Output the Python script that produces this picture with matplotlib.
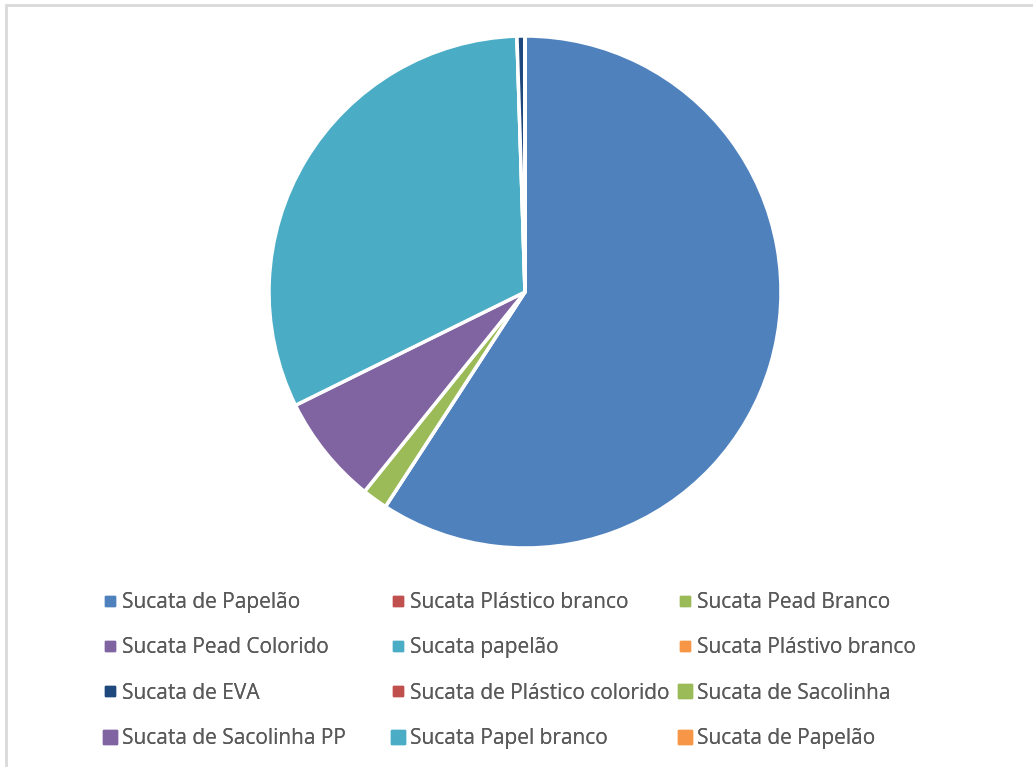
import matplotlib.pyplot as plt
from matplotlib.lines import Line2D
from matplotlib.patches import Rectangle

# Categories as they appear in the legend (row by row)
labels = ["Sucata de Papelão", "Sucata Plástico branco", "Sucata Pead Branco",
          "Sucata Pead Colorido", "Sucata papelão", "Sucata Plástivo branco",
          "Sucata de EVA", "Sucata de Plástico colorido", "Sucata de Sacolinha",
          "Sucata de Sacolinha PP", "Sucata Papel branco", "Sucata de Papelão"]
# Share of each category (percent)
values = [59.0, 0.0, 1.6, 6.9, 31.7, 0.0, 0.5, 0.0, 0.0, 0.0, 0.0, 0.0]
colors = ["#4F81BD", "#C0504D", "#9BBB59", "#8064A2", "#4BACC6", "#F79646",
          "#1F497D", "#C0504D", "#9BBB59", "#8064A2", "#4BACC6", "#F79646"]

plt.rcParams['font.family'] = ['Open Sans', 'DejaVu Sans']

W, H = 1033, 767
fig = plt.figure(figsize=(W / 100, H / 100), dpi=100)

# outer chart border (only top and left visible in the crop)
fig.patches.append(Rectangle((6 / W, -0.05), 1.1, 0.05 + 762 / H,
                             transform=fig.transFigure, fill=False,
                             edgecolor="#D9D9D9", linewidth=2))

ax = fig.add_axes([(525 - 260) / W, 1 - (292 + 260) / H, 520 / W, 520 / H])
ax.pie(values, colors=colors, startangle=90, counterclock=False,
       wedgeprops=dict(edgecolor="white", linewidth=2.5), radius=256 / 260)
ax.set_xlim(-1, 1)
ax.set_ylim(-1, 1)
ax.set_aspect("equal")

handles = []
for i, (lab, col) in enumerate(zip(labels, colors)):
    size = 6.5 if i < 8 else 9.8
    handles.append(Line2D([], [], marker="s", linestyle="", markersize=size,
                          color=col, label=lab))

# Excel lays the legend out in equal-width columns -> one legend per column
ncol = 3
col_x = [102, 390, 677]
for c in range(ncol):
    idx = list(range(c, len(labels), ncol))
    leg = fig.legend([handles[k] for k in idx], [labels[k] for k in idx],
                     loc="upper left", bbox_to_anchor=(col_x[c] / W, 1 - 592 / H),
                     frameon=False, fontsize=15, labelcolor="#595959",
                     handlelength=0.8, handletextpad=0.18, labelspacing=1.17,
                     borderpad=0, borderaxespad=0)
    fig.add_artist(leg)

fig.savefig("out.png", dpi=100, facecolor="white")
